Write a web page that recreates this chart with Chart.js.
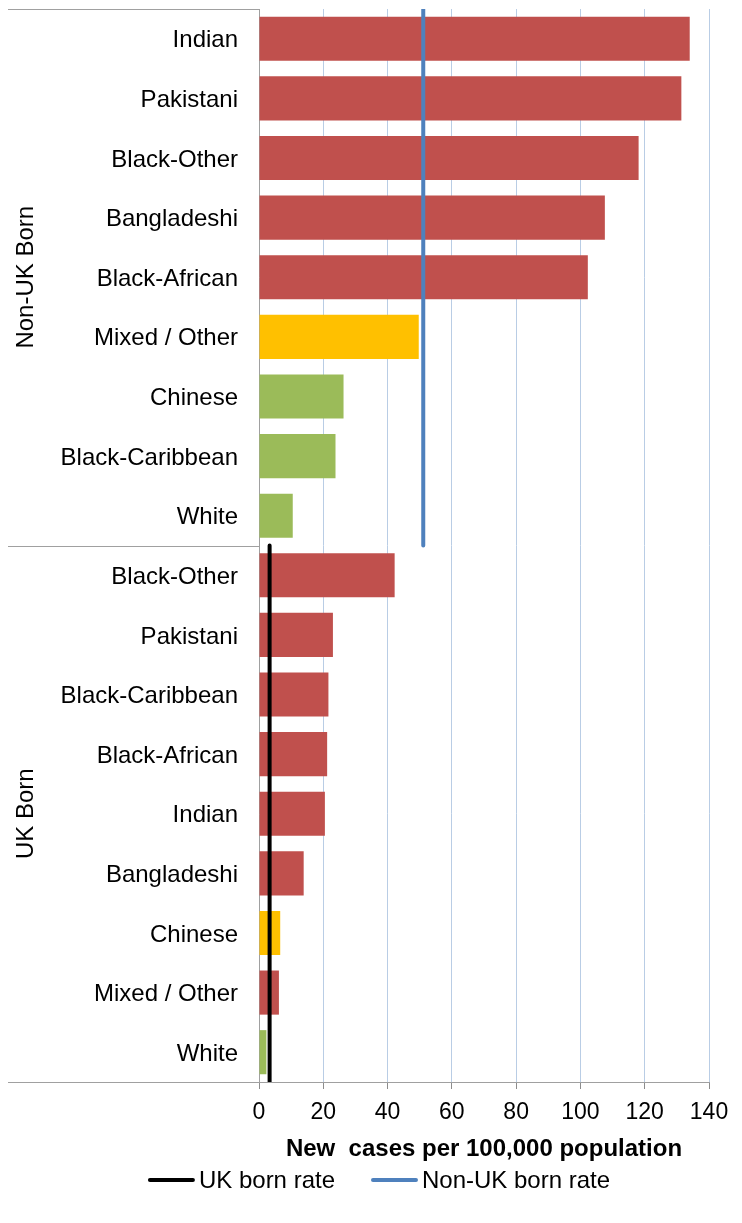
<!DOCTYPE html>
<html>
<head>
<meta charset="utf-8">
<title>New cases per 100,000 population by ethnic group and place of birth</title>
<script src="https://cdn.jsdelivr.net/npm/chart.js@4.4.1/dist/chart.umd.min.js"></script>
<style>
  html, body { margin: 0; padding: 0; background: #fff; }
  #wrap { position: relative; width: 742px; height: 1223px; }
</style>
</head>
<body>
<div id="wrap"><canvas id="chart"></canvas></div>
<script>
// categories, top to bottom, one list per place-of-birth group
const groups = ['Non-UK Born', 'UK Born'];
const nonUkLabels = ['Indian', 'Pakistani', 'Black-Other', 'Bangladeshi', 'Black-African', 'Mixed / Other', 'Chinese', 'Black-Caribbean', 'White'];
const ukLabels = ['Black-Other', 'Pakistani', 'Black-Caribbean', 'Black-African', 'Indian', 'Bangladeshi', 'Chinese', 'Mixed / Other', 'White'];
const nonUkValues = [134.0, 131.4, 118.1, 107.6, 102.3, 49.7, 26.3, 23.8, 10.5];
const ukValues = [42.2, 23.0, 21.6, 21.2, 20.5, 13.9, 6.6, 6.2, 2.3];
// band of each bar (drives its colour)
const nonUkBands = ['high', 'high', 'high', 'high', 'high', 'mid', 'low', 'low', 'low'];
const ukBands = ['high', 'high', 'high', 'high', 'high', 'high', 'mid', 'high', 'low'];
// reference rates, and which group each one spans
const rateLabels = ['UK born rate', 'Non-UK born rate'];
const rateValues = [3.3, 51.1];
const rateGroups = [1, 0];
const xTicks = [0, 20, 40, 60, 80, 100, 120, 140];

const FONT = '"Liberation Sans", Arial, Helvetica, sans-serif';
const bandColors = { high: '#C0504D', mid: '#FFC000', low: '#9BBB59' };
const rateColors = ['#000000', '#4F81BD'];
const axisGrey = '#A0A0A0';

const labels = nonUkLabels.concat(ukLabels);
const values = nonUkValues.concat(ukValues);
const bands = nonUkBands.concat(ukBands);
const groupSizes = [nonUkLabels.length, ukLabels.length];
const groupStarts = [0, nonUkLabels.length];

Chart.defaults.font.family = FONT;
Chart.defaults.font.size = 24;
Chart.defaults.color = '#000';

// left-hand group brackets, rotated group names and the line legend
const groupPlugin = {
  id: 'groupLabels',
  afterDraw(chart){
    const {ctx, chartArea, scales} = chart;
    const y = scales.y;
    const edges = [chartArea.top];
    let n = 0;
    for(const size of groupSizes){
      n += size;
      if(n < labels.length) edges.push((y.getPixelForValue(n - 1) + y.getPixelForValue(n)) / 2);
      else edges.push(chartArea.bottom);
    }
    ctx.save();
    ctx.strokeStyle = axisGrey;
    ctx.lineWidth = 1;
    for(const e of edges){
      const yy = Math.round(e) + 0.5;
      ctx.beginPath(); ctx.moveTo(8, yy); ctx.lineTo(chartArea.left, yy); ctx.stroke();
    }
    ctx.fillStyle = '#000';
    ctx.font = '24px ' + FONT;
    ctx.textAlign = 'center';
    ctx.textBaseline = 'middle';
    groups.forEach((g, i) => {
      ctx.save();
      ctx.translate(26, (edges[i] + edges[i + 1]) / 2);
      ctx.rotate(-Math.PI / 2);
      ctx.fillText(g, 0, 0);
      ctx.restore();
    });

    // legend: short line + label for each rate dataset, centred under the chart
    const lineLen = 47, gap = 4, itemGap = 36;
    const widths = rateLabels.map(t => ctx.measureText(t).width);
    const total = widths.reduce((a, w) => a + lineLen + gap + w, 0) + itemGap * (rateLabels.length - 1);
    let lx = (chart.width + 16 - total) / 2;
    const ly = chart.height - 43;
    ctx.textAlign = 'left';
    rateLabels.forEach((t, i) => {
      ctx.strokeStyle = rateColors[i];
      ctx.lineWidth = 4;
      ctx.lineCap = 'round';
      ctx.beginPath(); ctx.moveTo(lx + 2, ly); ctx.lineTo(lx + lineLen - 2, ly); ctx.stroke();
      ctx.fillStyle = '#000';
      ctx.fillText(t, lx + lineLen + gap, ly + 1);
      lx += lineLen + gap + widths[i] + itemGap;
    });
    ctx.restore();
  }
};

const rateSets = rateLabels.map((lab, i) => {
  const g = rateGroups[i];
  return {
    type: 'line',
    label: lab,
    indexAxis: 'y',
    xAxisID: 'x',
    yAxisID: 'y2',
    data: [{x: rateValues[i], y: groupStarts[g]}, {x: rateValues[i], y: groupStarts[g] + groupSizes[g]}],
    borderColor: rateColors[i],
    backgroundColor: rateColors[i],
    borderWidth: 4,
    borderCapStyle: 'round',
    pointRadius: 0,
    order: 0
  };
});

new Chart(document.getElementById('chart'), {
  type: 'bar',
  data: {
    labels: labels,
    datasets: [{
      label: 'Rate',
      data: values,
      xAxisID: 'x',
      yAxisID: 'y',
      backgroundColor: bands.map(b => bandColors[b]),
      grouped: false,
      barPercentage: 0.74,
      categoryPercentage: 1,
      order: 1
    }].concat(rateSets)
  },
  options: {
    indexAxis: 'y',
    responsive: true,
    maintainAspectRatio: false,
    animation: false,
    layout: { padding: { top: 9, right: 33, left: 0, bottom: 59 } },
    scales: {
      x: {
        type: 'linear',
        min: 0, max: 140,
        afterBuildTicks: s => { s.ticks = xTicks.map(v => ({value: v})); },
        afterFit: s => { s.height = 82; s.paddingLeft = 0; },
        grid: { color: '#B9CDE5', lineWidth: 1, tickColor: '#8C8C8C', tickLength: 7 },
        border: { color: axisGrey, width: 1 },
        ticks: { padding: 10, font: { size: 23 }, color: '#000', maxRotation: 0 },
        title: { display: true, text: 'New  cases per 100,000 population', font: { size: 24, weight: 'bold' }, color: '#000', padding: { top: 0, bottom: 0 } }
      },
      y: {
        type: 'category',
        position: 'left',
        afterFit: s => { s.width = 259; s.paddingTop = 0; s.paddingBottom = 0; },
        grid: { display: false, drawTicks: false },
        border: { display: true, color: axisGrey, width: 1 },
        ticks: { padding: 21, labelOffset: 2, font: { size: 24 }, color: '#000', autoSkip: false }
      },
      y2: {
        type: 'linear',
        position: 'left',
        display: false,
        offset: false,
        grid: { offset: false },
        min: 0, max: labels.length,
        reverse: true
      }
    },
    plugins: {
      tooltip: { enabled: false },
      legend: { display: false }
    }
  },
  plugins: [groupPlugin]
});
</script>
</body>
</html>
